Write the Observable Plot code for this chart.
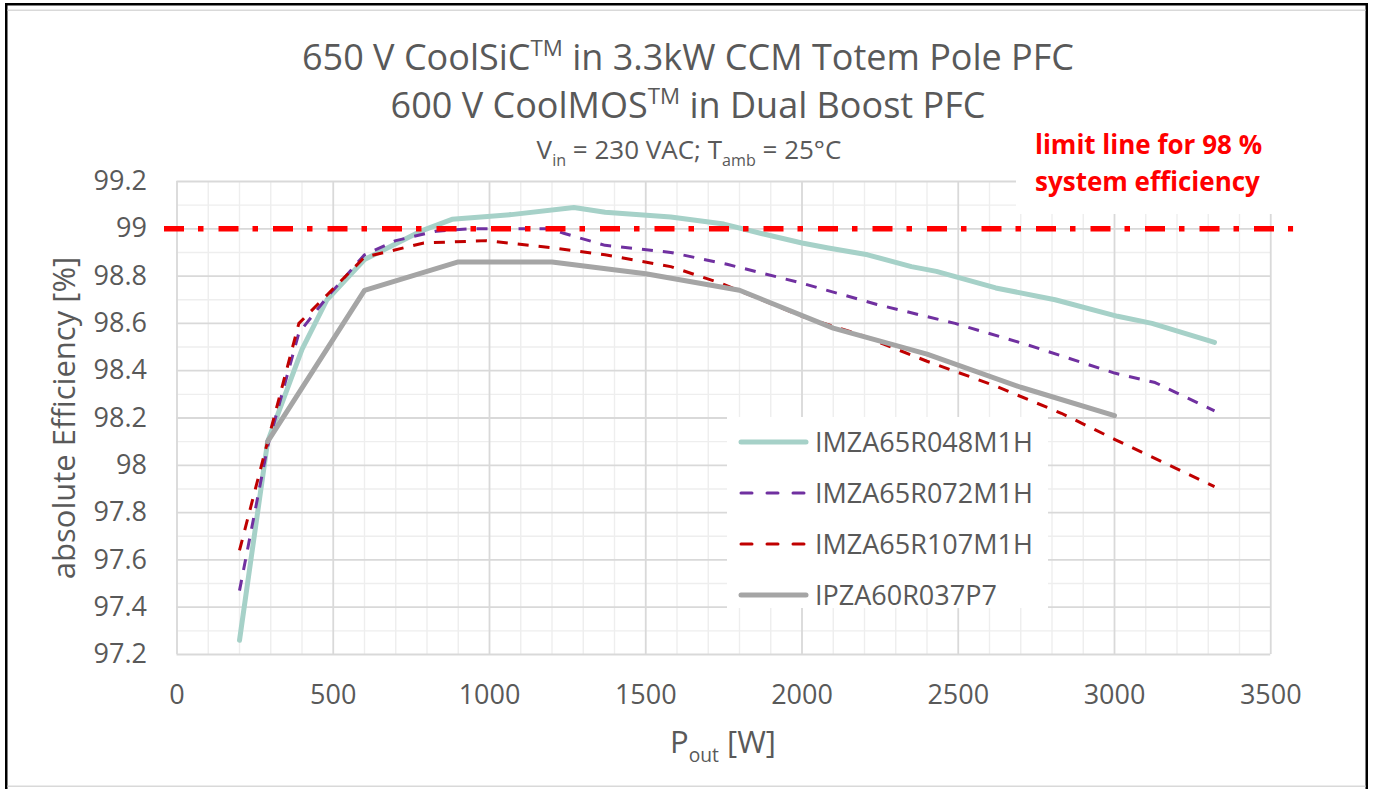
<!DOCTYPE html>
<html>
<head>
<meta charset="utf-8">
<script src="https://cdn.jsdelivr.net/npm/d3@7"></script>
<script src="https://cdn.jsdelivr.net/npm/@observablehq/plot@0.6"></script>
<style>
html, body { margin: 0; padding: 0; background: #fff; }
#wrap { position: relative; width: 1373px; height: 789px; overflow: hidden; font-family: "Open Sans", sans-serif; }
#chart { position: absolute; left: 0; top: 0; }
#overlay { position: absolute; left: 0; top: 0; pointer-events: none; }
</style>
</head>
<body>
<div id="wrap">
  <div id="chart"></div>
  <svg id="overlay" width="1373" height="789"></svg>
</div>
<script>
// ---------------- data ----------------
const seriesNames = ["IMZA65R048M1H", "IMZA65R072M1H", "IMZA65R107M1H", "IPZA60R037P7"];

const p048 = [200, 290, 400, 480, 600, 780, 880, 1070, 1270, 1370, 1580, 1750, 1870, 2000, 2080, 2210, 2350, 2430, 2620, 2810, 3010, 3120, 3320];
const e048 = [97.26, 98.10, 98.49, 98.70, 98.87, 98.99, 99.04, 99.06, 99.09, 99.07, 99.05, 99.02, 98.98, 98.94, 98.92, 98.89, 98.84, 98.82, 98.75, 98.70, 98.63, 98.60, 98.52];

const p072 = [200, 290, 390, 480, 600, 700, 830, 940, 1190, 1240, 1370, 1580, 1760, 2000, 2240, 2490, 2720, 3000, 3130, 3320];
const e072 = [97.47, 98.08, 98.56, 98.71, 98.89, 98.95, 98.99, 99.00, 99.00, 98.98, 98.93, 98.90, 98.85, 98.77, 98.68, 98.60, 98.51, 98.39, 98.35, 98.23];

const p107 = [200, 290, 390, 480, 600, 790, 990, 1200, 1370, 1580, 1740, 2000, 2190, 2400, 2610, 2830, 3000, 3320];
const e107 = [97.64, 98.10, 98.60, 98.72, 98.88, 98.94, 98.95, 98.92, 98.89, 98.84, 98.77, 98.63, 98.55, 98.44, 98.34, 98.22, 98.11, 97.91];

const p037 = [290, 600, 900, 1200, 1500, 1800, 2100, 2400, 2700, 3000];
const e037 = [98.10, 98.74, 98.86, 98.86, 98.81, 98.74, 98.58, 98.47, 98.33, 98.21];

const limitValue = 99;
const limitSpan = [-40, 3573];

const xTicks = [0, 500, 1000, 1500, 2000, 2500, 3000, 3500];
const yTicks = [97.2, 97.4, 97.6, 97.8, 98, 98.2, 98.4, 98.6, 98.8, 99, 99.2];
const xMinorStep = 100;
const yMinorStep = 0.1;

const titleLine1 = [["650 V CoolSiC", null], ["TM", "sup"], [" in 3.3kW CCM Totem Pole PFC", null]];
const titleLine2 = [["600 V CoolMOS", null], ["TM", "sup"], [" in Dual Boost PFC", null]];
const subtitle = [["V", null], ["in", "sub"], [" = 230 VAC; T", null], ["amb", "sub"], [" = 25°C", null]];
const yLabel = "absolute Efficiency [%]";
const xLabel = [["P", null], ["out", "sub"], [" [W]", null]];
const noteLines = ["limit line for 98 %", "system efficiency"];

// ---------------- styles ----------------
const seriesStyles = [
  {stroke: "#a6d1c8", width: 5, dash: null},
  {stroke: "#7030a0", width: 3, dash: "11,10"},
  {stroke: "#c00000", width: 3, dash: "11,10"},
  {stroke: "#a5a5a5", width: 5, dash: null}
];
const textColor = "#595959";

const toRows = (ps, es) => ps.map((p, i) => ({p, e: es[i]}));
const seriesData = [toRows(p048, e048), toRows(p072, e072), toRows(p107, e107), toRows(p037, e037)];

const minorX = d3.range(0, 3500 + 1, xMinorStep).filter(v => v % 500 !== 0);
const minorY = d3.range(0, 21).map(i => +(97.2 + i * yMinorStep).toFixed(1)).filter(v => Math.round(v * 10) % 2 === 1);

const lineMarks = seriesData.map((rows, i) => Plot.line(rows, {
  x: "p", y: "e",
  stroke: seriesStyles[i].stroke,
  strokeWidth: seriesStyles[i].width,
  strokeDasharray: seriesStyles[i].dash,
  strokeLinecap: seriesStyles[i].dash ? "butt" : "round",
  strokeLinejoin: "round"
}));

const chart = Plot.plot({
  width: 1373,
  height: 789,
  marginLeft: 176.5,
  marginRight: 102.75,
  marginTop: 181,
  marginBottom: 135,
  style: {fontFamily: '"Open Sans", sans-serif', fontSize: "27px", color: textColor, background: "transparent"},
  x: {type: "linear", domain: [0, 3500], label: null},
  y: {type: "linear", domain: [97.2, 99.2], label: null},
  marks: [
    Plot.ruleX(minorX, {stroke: "#eeeeee", strokeWidth: 1.4}),
    Plot.ruleY(minorY, {stroke: "#eeeeee", strokeWidth: 1.4}),
    Plot.ruleX(xTicks, {stroke: "#d9d9d9", strokeWidth: 1.8}),
    Plot.ruleY(yTicks, {stroke: "#d9d9d9", strokeWidth: 1.8}),
    Plot.axisX(xTicks, {tickSize: 0, tickPadding: 30, tickFormat: d => String(d), fill: textColor}),
    Plot.axisY(yTicks, {tickSize: 0, tickPadding: 30, tickFormat: d => String(+d.toFixed(1)), fill: textColor}),
    ...lineMarks,
    Plot.ruleY([{y: limitValue, x1: limitSpan[0], x2: limitSpan[1]}], {
      y: "y", x1: "x1", x2: "x2",
      stroke: "#ff0000", strokeWidth: 5.5, strokeDasharray: "20,14,5.5,15"
    })
  ]
});
document.getElementById("chart").appendChild(chart);

// ---------------- overlay (titles, labels, legend, frame) ----------------
const ov = d3.select("#overlay");

function richText(parent, x, y, parts, size, attrs = {}) {
  const t = parent.append("text")
    .attr("x", x).attr("y", y)
    .attr("font-size", size)
    .attr("font-family", '"Open Sans", sans-serif')
    .attr("fill", textColor);
  for (const [k, v] of Object.entries(attrs)) t.attr(k, v);
  let shift = 0;
  for (const [s, kind] of parts) {
    const ts = t.append("tspan").text(s);
    let target = 0;
    if (kind === "sup") { ts.attr("font-size", size * 0.62); target = -size * 0.40; }
    else if (kind === "sub") { ts.attr("font-size", size * 0.62); target = size * 0.28; }
    ts.attr("dy", target - shift);
    shift = target;
  }
  return t;
}

// frame
ov.append("rect").attr("x", 5).attr("y", 3).attr("width", 1363).attr("height", 2.5).attr("fill", "#000");
ov.append("rect").attr("x", 5).attr("y", 3).attr("width", 2.5).attr("height", 786).attr("fill", "#000");
ov.append("rect").attr("x", 1365.5).attr("y", 3).attr("width", 2.5).attr("height", 786).attr("fill", "#000");
ov.append("rect").attr("x", 7.5).attr("y", 9.5).attr("width", 1358).attr("height", 1.5).attr("fill", "#d9d9d9");
ov.append("rect").attr("x", 7.5).attr("y", 785.5).attr("width", 1358).attr("height", 1.5).attr("fill", "#d9d9d9");

// titles
richText(ov, 688, 70, titleLine1, 36, {"text-anchor": "middle"});
richText(ov, 688, 118, titleLine2, 36, {"text-anchor": "middle"});
richText(ov, 689, 159, subtitle, 26, {"text-anchor": "middle"});

// axis titles
ov.append("text")
  .attr("transform", "translate(75,418) rotate(-90)")
  .attr("text-anchor", "middle")
  .attr("font-size", 31)
  .attr("font-family", '"Open Sans", sans-serif')
  .attr("fill", textColor)
  .text(yLabel);
richText(ov, 723, 753, xLabel, 31, {"text-anchor": "middle"});

// annotation box
ov.append("rect").attr("x", 1016).attr("y", 118).attr("width", 290).attr("height", 96).attr("fill", "#fff");
noteLines.forEach((s, i) => {
  ov.append("text")
    .attr("x", 1035).attr("y", 154 + i * 37)
    .attr("font-size", 26)
    .attr("font-weight", 700)
    .attr("font-family", '"Open Sans", sans-serif')
    .attr("fill", "#ff0000")
    .text(s);
});

// legend
ov.append("rect").attr("x", 727).attr("y", 417).attr("width", 321).attr("height", 191).attr("fill", "#fff");
seriesNames.forEach((name, i) => {
  const cy = 442 + i * 51;
  const st = seriesStyles[i];
  ov.append("line")
    .attr("x1", 741).attr("x2", 806).attr("y1", cy).attr("y2", cy)
    .attr("stroke", st.stroke).attr("stroke-width", st.width)
    .attr("stroke-dasharray", st.dash ? "11,15" : null)
    .attr("stroke-linecap", "round");
  ov.append("text")
    .attr("x", 815).attr("y", cy + 10)
    .attr("font-size", 27)
    .attr("font-family", '"Open Sans", sans-serif')
    .attr("fill", textColor)
    .text(name);
});
</script>
</body>
</html>
